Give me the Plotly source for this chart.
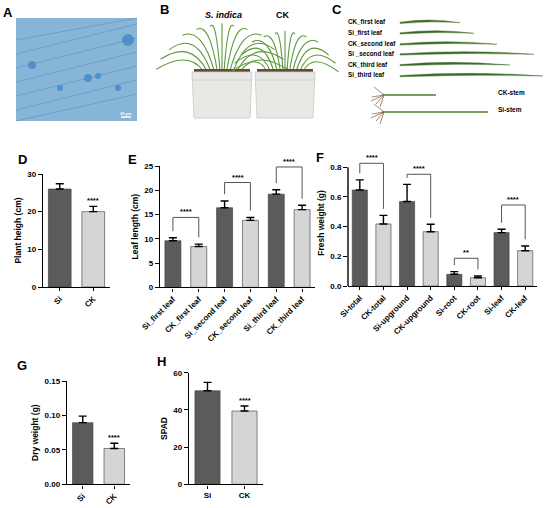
import math
import plotly.graph_objects as go

W, H = 550, 508

# ---- data ----
height_groups = ["Si", "CK"]
height_mean = [26.0, 20.0]
height_sd = [1.4, 1.4]

leaf_groups = ["Si_first leaf", "CK_first leaf", "Si_second leaf", "CK_second leaf",
               "Si_third leaf", "CK_third leaf"]
leaf_mean = [9.6, 8.4, 16.4, 13.8, 19.2, 16.0]
leaf_sd = [0.6, 0.5, 1.4, 0.6, 0.9, 0.9]
leaf_pairs = [(0, 1), (2, 3), (4, 5)]
leaf_bracket_y = [14.4, 21.6, 24.8]
leaf_sig = ["****", "****", "****"]

fresh_groups = ["Si-total", "CK-total", "Si-upground", "CK-upground",
                "Si-root", "CK-root", "Si-leaf", "CK-leaf"]
fresh_mean = [0.647, 0.418, 0.569, 0.366, 0.079, 0.056, 0.360, 0.238]
fresh_sd = [0.068, 0.058, 0.116, 0.050, 0.018, 0.011, 0.022, 0.032]
fresh_pairs = [(0, 1), (2, 3), (4, 5), (6, 7)]
fresh_bracket_y = [0.827, 0.753, 0.187, 0.546]
fresh_sig = ["****", "****", "**", "****"]

dry_groups = ["Si", "CK"]
dry_mean = [0.0895, 0.052]
dry_sd = [0.0095, 0.0075]

spad_groups = ["Si", "CK"]
spad_mean = [50.3, 39.4]
spad_sd = [4.5, 2.7]

c_labels = ["CK_first leaf", "Si_first leaf", "CK_second leaf", "Si _second leaf",
            "CK_third leaf", "Si_third leaf"]

DARK = "#5b5b5b"
LIGHT = "#d5d5d5"
FONT = "Arial, Liberation Sans, sans-serif"


def px(x):
    return x / W


def py(y):
    return 1 - y / H


fig = go.Figure()
shapes = []
annotations = []


def label(x, y, text, size, xanchor="center", color="black"):
    # paper annotation placed by pixel position (anchors set explicitly,
    # "auto" would move them toward the edges)
    annotations.append(dict(xref="paper", yref="paper", x=px(x), y=py(y),
                            text=text, showarrow=False,
                            xanchor=xanchor, yanchor="middle",
                            font=dict(family=FONT, size=size, color=color,
                                      weight="bold")))


def add_panel(n, groups, means, sds, x0, x1, ytop, ybot, yrange, dtick, fmt,
              title, angle, width, spine_top=None):
    xa = "x" if n == 1 else f"x{n}"
    ya = "y" if n == 1 else f"y{n}"
    colors = [DARK if g.startswith("Si") else LIGHT for g in groups]
    fig.add_trace(go.Bar(
        x=groups, y=means, xaxis=xa, yaxis=ya, width=width,
        marker=dict(color=colors, line=dict(color="#3a3a3a", width=0.6)),
        error_y=dict(type="data", symmetric=False, array=sds,
                     arrayminus=[0] * len(sds), color="black",
                     thickness=1.4, width=4),
        showlegend=False, hoverinfo="skip",
    ))
    top = spine_top if spine_top is not None else yrange[1]
    tickvals = []
    v = yrange[0]
    while v <= top + 1e-9:
        tickvals.append(round(v, 4))
        v += dtick
    fig.layout[("xaxis" if n == 1 else f"xaxis{n}")] = dict(
        domain=[px(x0), px(x1)], anchor=ya, type="category", automargin=False,
        showline=True, linecolor="black", linewidth=1.4,
        ticks="outside", ticklen=3, tickwidth=1.2, tickcolor="black",
        tickangle=angle, showgrid=False, zeroline=False, fixedrange=True,
        tickfont=dict(family=FONT, size=8, color="black", weight="bold"),
    )
    fig.layout[("yaxis" if n == 1 else f"yaxis{n}")] = dict(
        domain=[py(ybot), py(ytop)], anchor=xa, range=yrange, automargin=False,
        showline=spine_top is None, linecolor="black", linewidth=1.4,
        ticks="outside", ticklen=4, tickwidth=1.2, tickcolor="black",
        tickvals=tickvals, tickformat=fmt, showgrid=False, zeroline=False,
        fixedrange=True,
        tickfont=dict(family=FONT, size=8, color="black", weight="bold"),
        title=dict(text=title, standoff=4,
                   font=dict(family=FONT, size=8.5, color="black", weight="bold")),
    )
    if spine_top is not None:
        shapes.append(dict(type="line", xref=f"{xa} domain", yref=ya,
                           x0=0, x1=0, y0=0, y1=spine_top,
                           line=dict(color="black", width=1.4)))
    return xa, ya


def add_brackets(xa, ya, means, sds, pairs, tops, sigs, span):
    gap = 0.055 * span
    for (i, j), top, sig in zip(pairs, tops, sigs):
        yl = means[i] + sds[i] + gap
        yr = means[j] + sds[j] + gap
        shapes.append(dict(
            type="path", xref=xa, yref=ya,
            path=f"M {i},{yl} L {i},{top} L {j},{top} L {j},{yr}",
            line=dict(color="#555555", width=1)))
        annotations.append(dict(
            xref=xa, yref=ya, x=(i + j) / 2, y=top, text=sig, showarrow=False,
            xanchor="center", yanchor="bottom", yshift=-1,
            font=dict(family=FONT, size=7.5, color="black", weight="bold")))


def add_star(xa, ya, x, y):
    annotations.append(dict(
        xref=xa, yref=ya, x=x, y=y, text="****", showarrow=False,
        xanchor="center", yanchor="bottom", yshift=-1,
        font=dict(family=FONT, size=7.5, color="black", weight="bold")))


# D
xa, ya = add_panel(1, height_groups, height_mean, height_sd, 43, 110, 174, 287,
                   [0, 30], 10, "d", "Plant heigh (cm)", -45, 0.68)
add_star(xa, ya, "CK", height_mean[1] + height_sd[1])

# E
xa, ya = add_panel(2, leaf_groups, leaf_mean, leaf_sd, 160, 315, 166, 287.3,
                   [0, 25], 5, "d", "Leaf length (cm)", -45, 0.62)
add_brackets(xa, ya, leaf_mean, leaf_sd, leaf_pairs, leaf_bracket_y, leaf_sig, 25)

# F (axis extended so the top bracket fits, spine drawn to 0.8)
f_top = 286 - 0.85 * (286 - 167.3) / 0.8
xa, ya = add_panel(3, fresh_groups, fresh_mean, fresh_sd, 348, 537, f_top, 286,
                   [0, 0.85], 0.2, ".1f", "Fresh weight (g)", -45, 0.64,
                   spine_top=0.8)
add_brackets(xa, ya, fresh_mean, fresh_sd, fresh_pairs, fresh_bracket_y,
             fresh_sig, 0.8)

# G
xa, ya = add_panel(4, dry_groups, dry_mean, dry_sd, 67, 130, 381, 484.3,
                   [0, 0.15], 0.05, ".2f", "Dry weight (g)", -45, 0.65)
add_star(xa, ya, "CK", dry_mean[1] + dry_sd[1])

# H
xa, ya = add_panel(5, spad_groups, spad_mean, spad_sd, 189, 263, 372.7, 484.3,
                   [0, 60], 20, "d", "SPAD", 0, 0.68)
add_star(xa, ya, "CK", spad_mean[1] + spad_sd[1])

# ---- panel letters ----
for letter, (lx, ly) in {"A": (8, 13), "B": (164, 10), "C": (337, 10),
                         "D": (22, 159), "E": (132, 159), "F": (320, 157),
                         "G": (22, 365), "H": (161, 361)}.items():
    label(lx, ly, letter, 13)

# ---- A: micrograph placeholder ----
shapes.append(dict(type="rect", xref="paper", yref="paper",
                   x0=px(16), x1=px(137), y0=py(121), y1=py(18),
                   fillcolor="#86b5d8", line=dict(width=0), layer="below"))
for k in range(7):
    # diagonal cell walls kept inside the photo frame
    ya0 = 30 + 14 * k
    shapes.append(dict(type="line", xref="paper", yref="paper",
                       x0=px(16), y0=py(min(ya0 + 10, 121)),
                       x1=px(137), y1=py(max(ya0 - 20, 18)),
                       line=dict(color="#4f85b3", width=1), opacity=0.45))
for cx, cy, r in [(32, 65, 4), (88, 78, 4), (98, 76, 3), (128, 40, 6),
                  (60, 88, 3), (118, 88, 3)]:
    shapes.append(dict(type="circle", xref="paper", yref="paper",
                       x0=px(cx - r), x1=px(cx + r), y0=py(cy + r), y1=py(cy - r),
                       fillcolor="#3f86c6", line=dict(width=0), opacity=0.75))
shapes.append(dict(type="line", xref="paper", yref="paper",
                   x0=px(121), x1=px(131), y0=py(117), y1=py(117),
                   line=dict(color="white", width=1.5)))
label(126, 113.5, "20 μm", 4, color="white")

# ---- B: pots placeholder ----
for bx0, bx1, spread in [(192, 252, 1.0), (255, 315, 0.85)]:
    mid = (bx0 + bx1) / 2
    for ang in [-72, -58, -44, -30, -18, -8, 0, 8, 18, 30, 44, 58, 72]:
        ln = 54 * spread - abs(ang) * 0.15
        ex = mid + ln * math.sin(math.radians(ang)) * 1.6
        ey = 72 - ln * math.cos(math.radians(ang)) * 0.95
        droop = 10 if abs(ang) > 40 else 4
        shapes.append(dict(type="path", xref="paper", yref="paper",
                           path=f"M {px(mid + ang * 0.25)},{py(72)} Q {px((mid + ex) / 2)},{py(ey - droop)} {px(ex)},{py(ey + droop)}",
                           line=dict(color="#5c9a3a", width=1.1)))
    shapes.append(dict(type="rect", xref="paper", yref="paper",
                       x0=px(bx0 + 2), x1=px(bx1 - 2), y0=py(75), y1=py(69),
                       fillcolor="#6b4a33", line=dict(width=0)))
    shapes.append(dict(type="path", xref="paper", yref="paper",
                       path=f"M {px(bx0)},{py(72)} L {px(bx1)},{py(72)} L {px(bx1 - 2)},{py(118)} L {px(bx0 + 2)},{py(118)} Z",
                       fillcolor="#e8e8e5", line=dict(color="#c8c8c4", width=0.8)))
    shapes.append(dict(type="line", xref="paper", yref="paper",
                       x0=px(bx0), x1=px(bx1), y0=py(80), y1=py(80),
                       line=dict(color="#c8c8c4", width=0.8)))
label(223, 15, "<i>S. indica</i>", 9)
label(283, 15, "CK", 9)

# ---- C: leaves placeholder ----
leaf_rows = [21.7, 32.3, 43.3, 53.3, 64, 75]
leaf_ends = [460, 474, 497, 534, 510, 543]
for lab, yc, xe in zip(c_labels, leaf_rows, leaf_ends):
    label(346, yc, lab, 6.3, xanchor="left")
    xm = (400 + xe) / 2
    shapes.append(dict(type="path", xref="paper", yref="paper",
                       path=f"M {px(400)},{py(yc + 0.5)} Q {px(xm)},{py(yc - 4)} {px(xe)},{py(yc + 1)} Q {px(xm)},{py(yc - 1)} {px(400)},{py(yc + 1.8)} Z",
                       fillcolor="#3d6b26", line=dict(color="#3d6b26", width=0.4)))
for yc, xe, lab in [(95, 436, "CK-stem"), (112, 488, "Si-stem")]:
    shapes.append(dict(type="line", xref="paper", yref="paper",
                       x0=px(382), x1=px(xe), y0=py(yc), y1=py(yc),
                       line=dict(color="#4f7a32", width=1.6)))
    for dx, dy in [(-10, -8), (-12, 2), (-8, 9), (-4, 12), (-13, 6)]:
        shapes.append(dict(type="line", xref="paper", yref="paper",
                           x0=px(384), y0=py(yc), x1=px(384 + dx), y1=py(yc + dy),
                           line=dict(color="#8a6a4f", width=0.8)))
    label(496, yc - 3, lab, 6.5, xanchor="left")

fig.update_layout(
    width=W, height=H,
    margin=dict(l=0, r=0, t=0, b=0, pad=0, autoexpand=False),
    paper_bgcolor="white", plot_bgcolor="white",
    font=dict(family=FONT, color="black"),
    showlegend=False,
    shapes=shapes, annotations=annotations,
)

# drop the browser's default body margin so the figure sits at the page corner
fig.write_html("out.html", config={"displayModeBar": False},
               post_script="document.body.style.margin='0';")
